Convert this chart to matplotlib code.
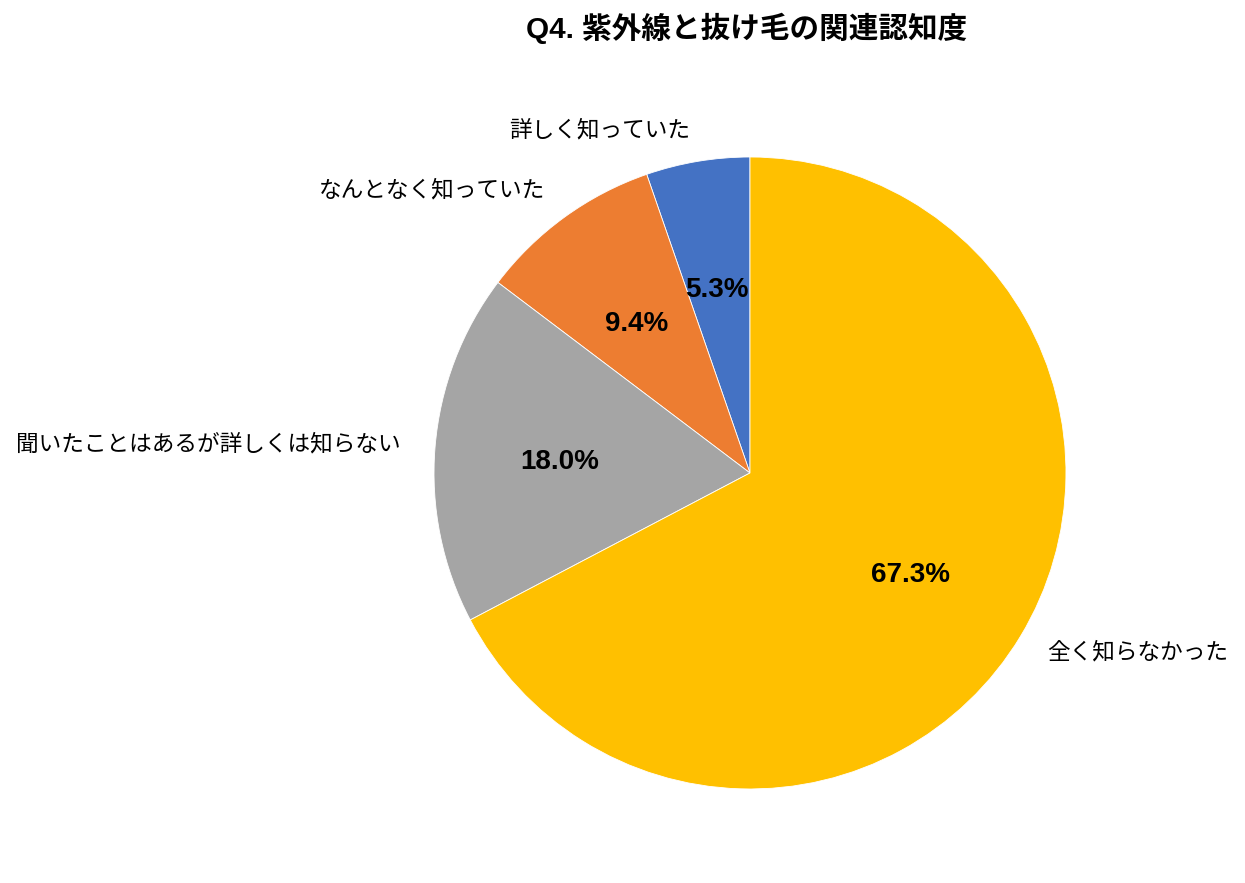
import matplotlib.pyplot as plt

plt.rcParams['font.family'] = ['Noto Sans CJK JP', 'DejaVu Sans']

labels = ['詳しく知っていた', 'なんとなく知っていた',
          '聞いたことはあるが詳しくは知らない', '全く知らなかった']
values = [5.3, 9.4, 18.0, 67.3]
colors = ['#4472C4', '#ED7D31', '#A5A5A5', '#FFC000']

# label placement (radius-1 pie coordinates), set by eye
label_pos = [(-0.475, 1.085), (-1.006, 0.896), (-1.715, 0.092), (1.228, -0.566)]


def main():
    fig = plt.figure(figsize=(12.45, 8.83), dpi=100)
    ax = fig.add_axes([0.3486, 0.1065, 0.5076, 0.7157])
    wedges, texts, autotexts = ax.pie(
        values, labels=labels, colors=colors, startangle=90,
        counterclock=True, autopct='%1.1f%%', pctdistance=0.6,
        wedgeprops={'edgecolor': 'white', 'linewidth': 0.6},
        textprops={'fontsize': 16.3})
    for t, pos in zip(texts, label_pos):
        t.set_position(pos)
        t.set_ha('center')
        t.set_va('center')
    for t in autotexts:
        t.set_fontsize(20)
        t.set_fontweight('bold')
        t.set_family(['Liberation Sans', 'DejaVu Sans'])
        x, y = t.get_position()
        t.set_position((x - 0.005, y - 0.013))
    ax.set_xlim(-1, 1)
    ax.set_ylim(-1, 1)
    ax.set_aspect('equal')
    fig.text(0.6, 0.968, 'Q4. 紫外線と抜け毛の関連認知度', ha='center', va='center',
             fontsize=21.3, fontweight='bold',
             family=['Liberation Sans', 'Noto Sans CJK JP'])
    fig.savefig('out.png', dpi=100)


if __name__ == '__main__':
    main()
